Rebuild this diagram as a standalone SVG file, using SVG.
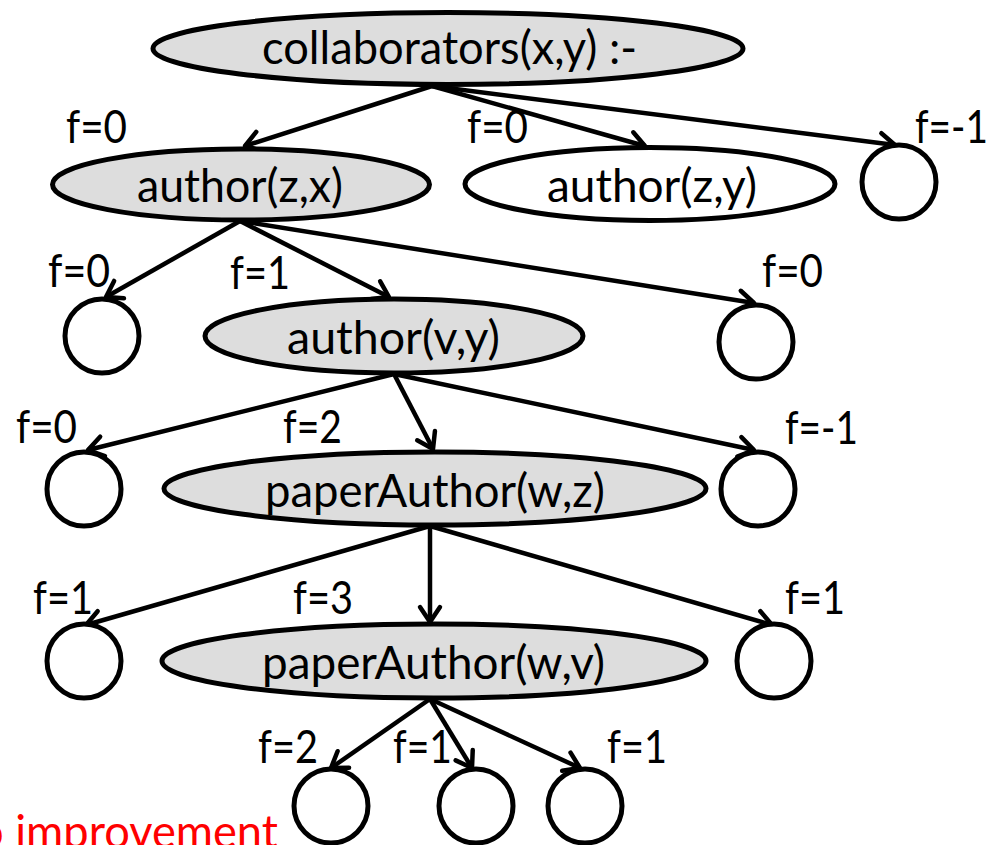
<svg xmlns="http://www.w3.org/2000/svg" width="991" height="845" viewBox="0 0 991 845">
  <defs>
    <marker id="arrow" markerUnits="userSpaceOnUse" viewBox="-20 -14 24 28" markerWidth="24" markerHeight="28" refX="0" refY="0" orient="auto" overflow="visible">
      <path d="M-15,-10 L0,0 L-15,10" fill="none" stroke="#000" stroke-width="4.5" stroke-linecap="round" stroke-linejoin="round"/>
    </marker>
  </defs>
  <style>
    .goal { fill: #dddddd; stroke: #000; stroke-width: 5; }
    .open { fill: #ffffff; stroke: #000; stroke-width: 5; }
    .leaf { fill: #ffffff; stroke: #000; stroke-width: 5; }
    .edge { stroke: #000; stroke-width: 4.5; fill: none; marker-end: url(#arrow); }
    text { font-family: Lato, "Liberation Sans", sans-serif; font-size: 46px; fill: #000; }
    .note { fill: #ff0000; }
  </style>

  <rect width="991" height="845" fill="#ffffff"/>

  <!-- connectors -->
  <g id="connectors">
    <line class="edge" x1="432" y1="86" x2="245" y2="146"/>
    <line class="edge" x1="432" y1="86" x2="645" y2="146"/>
    <line class="edge" x1="432" y1="86" x2="895" y2="145"/>

    <line class="edge" x1="240" y1="221" x2="106" y2="297"/>
    <line class="edge" x1="240" y1="221" x2="389" y2="297"/>
    <line class="edge" x1="240" y1="221" x2="754" y2="303"/>

    <line class="edge" x1="394" y1="374" x2="88" y2="450"/>
    <line class="edge" x1="394" y1="374" x2="433" y2="449"/>
    <line class="edge" x1="394" y1="374" x2="754" y2="450"/>

    <line class="edge" x1="430" y1="526" x2="86" y2="625"/>
    <line class="edge" x1="430" y1="526" x2="430" y2="622"/>
    <line class="edge" x1="430" y1="526" x2="772" y2="625"/>

    <line class="edge" x1="430" y1="699" x2="331" y2="768"/>
    <line class="edge" x1="430" y1="699" x2="472" y2="768"/>
    <line class="edge" x1="430" y1="699" x2="580" y2="768"/>
  </g>

  <!-- rule head -->
  <g id="collaborators">
    <ellipse class="goal" cx="448" cy="48.5" rx="295" ry="36"/>
    <text x="262" y="64" textLength="375" lengthAdjust="spacingAndGlyphs">collaborators(x,y) :-</text>
  </g>

  <!-- first level -->
  <g id="author-z-x">
    <ellipse class="goal" cx="241" cy="184.5" rx="188.5" ry="35.5"/>
    <text x="137" y="202" textLength="206" lengthAdjust="spacingAndGlyphs">author(z,x)</text>
    <text x="66" y="143" textLength="61" lengthAdjust="spacingAndGlyphs">f=0</text>
  </g>
  <g id="author-z-y">
    <ellipse class="open" cx="650" cy="184" rx="185" ry="36.5"/>
    <text x="547" y="202" textLength="210" lengthAdjust="spacingAndGlyphs">author(z,y)</text>
    <text x="467" y="143" textLength="61" lengthAdjust="spacingAndGlyphs">f=0</text>
  </g>
  <g id="leaf-1">
    <circle class="leaf" cx="899" cy="182" r="37"/>
    <text x="915" y="143" textLength="73" lengthAdjust="spacingAndGlyphs">f=-1</text>
  </g>

  <!-- second level -->
  <g id="leaf-2">
    <circle class="leaf" cx="102" cy="336" r="37"/>
    <text x="48" y="287" textLength="62" lengthAdjust="spacingAndGlyphs">f=0</text>
  </g>
  <g id="author-v-y">
    <ellipse class="goal" cx="394" cy="336" rx="189" ry="37"/>
    <text x="287" y="354" textLength="213" lengthAdjust="spacingAndGlyphs">author(v,y)</text>
    <text x="230" y="289" textLength="60" lengthAdjust="spacingAndGlyphs">f=1</text>
  </g>
  <g id="leaf-3">
    <circle class="leaf" cx="756" cy="342" r="37"/>
    <text x="762" y="287" textLength="61" lengthAdjust="spacingAndGlyphs">f=0</text>
  </g>

  <!-- third level -->
  <g id="leaf-4">
    <circle class="leaf" cx="84" cy="489" r="37"/>
    <text x="16" y="443" textLength="61" lengthAdjust="spacingAndGlyphs">f=0</text>
  </g>
  <g id="paperAuthor-w-z">
    <ellipse class="goal" cx="435" cy="488.5" rx="271" ry="36.5"/>
    <text x="265" y="507" textLength="340" lengthAdjust="spacingAndGlyphs">paperAuthor(w,z)</text>
    <text x="283" y="443" textLength="59" lengthAdjust="spacingAndGlyphs">f=2</text>
  </g>
  <g id="leaf-5">
    <circle class="leaf" cx="758" cy="489" r="37"/>
    <text x="785" y="444" textLength="73" lengthAdjust="spacingAndGlyphs">f=-1</text>
  </g>

  <!-- fourth level -->
  <g id="leaf-6">
    <circle class="leaf" cx="84" cy="661" r="37"/>
    <text x="33" y="614" textLength="60" lengthAdjust="spacingAndGlyphs">f=1</text>
  </g>
  <g id="paperAuthor-w-v">
    <ellipse class="goal" cx="434" cy="661" rx="272" ry="37"/>
    <text x="262" y="679" textLength="343" lengthAdjust="spacingAndGlyphs">paperAuthor(w,v)</text>
    <text x="293" y="614" textLength="60" lengthAdjust="spacingAndGlyphs">f=3</text>
  </g>
  <g id="leaf-7">
    <circle class="leaf" cx="774" cy="661" r="37"/>
    <text x="785" y="614" textLength="60" lengthAdjust="spacingAndGlyphs">f=1</text>
  </g>

  <!-- fifth level -->
  <g id="leaf-8">
    <circle class="leaf" cx="331" cy="806" r="37"/>
    <text x="258" y="763" textLength="60" lengthAdjust="spacingAndGlyphs">f=2</text>
  </g>
  <g id="leaf-9">
    <circle class="leaf" cx="476" cy="806" r="37"/>
    <text x="393" y="763" textLength="59" lengthAdjust="spacingAndGlyphs">f=1</text>
  </g>
  <g id="leaf-10">
    <circle class="leaf" cx="585" cy="806" r="37"/>
    <text x="607" y="763" textLength="60" lengthAdjust="spacingAndGlyphs">f=1</text>
  </g>

  <!-- annotation -->
  <text class="note" x="-22" y="848" textLength="300" lengthAdjust="spacingAndGlyphs">o improvement</text>
</svg>
